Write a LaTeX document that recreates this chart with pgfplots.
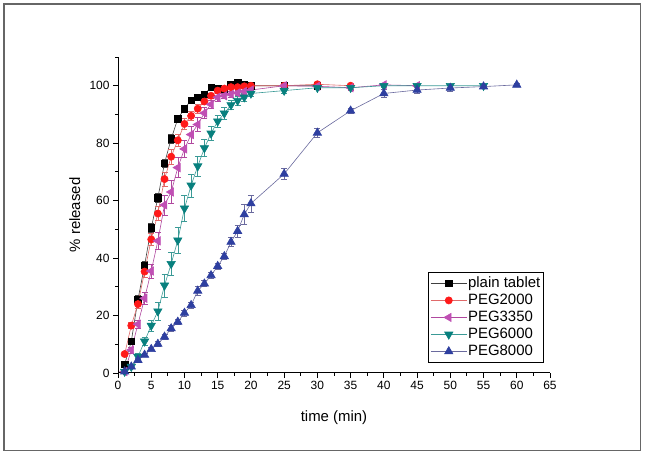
\documentclass[border=0pt]{standalone}
\usepackage{fontspec}
\setmainfont{Liberation Sans}
\usepackage{pgfplots}
\pgfplotsset{compat=1.18}
\usepackage{pgfplotstable}

\definecolor{lplain}{HTML}{404040}
\definecolor{mred}{HTML}{FF1A1A}
\definecolor{lred}{HTML}{E06A6A}
\definecolor{mmag}{HTML}{C04FB4}
\definecolor{lmag}{HTML}{B0489F}
\definecolor{mteal}{HTML}{08807E}
\definecolor{lteal}{HTML}{3A9A96}
\definecolor{mblue}{HTML}{2E3FA0}
\definecolor{lblue}{HTML}{6A6A9E}

\pgfplotstableread{
t v e
1 3 0.5
2 11 1
3 25.5 1.5
4 37.5 1.5
5 50.5 1.5
6 61 1.5
7 73 1.5
8 81.5 1.5
9 88.5 1
10 92 1
11 95 1
12 96 1
13 97 1
14 99.4 0.5
15 99 0.5
16 98.8 0.5
17 100.5 0.5
18 101 0.5
19 100.5 0.5
20 100 0.5
25 100 0.5
30 100 0.5
}\plain

\pgfplotstableread{
t v e
1 6.6 0.5
2 16.5 1
3 24 1.5
4 35.3 2
5 46.5 2
6 55.5 2.5
7 67.5 2.5
8 75.3 2.5
9 81 2
10 86.7 2
11 89.5 1.5
12 92 1.5
13 94.5 1
14 96.5 1
15 98.3 1
16 99 0.5
17 99.5 0.5
18 99.5 0.5
19 99.8 0.5
20 100 0.5
25 100 0.5
30 100.5 0.5
35 100 0.5
}\pegA

\pgfplotstableread{
t v e
1 0.5 0.5
2 8 1
3 17 1.5
4 26 2
5 35.5 2.5
6 46 3
7 58.5 3.5
8 63 4
9 71.5 3.5
10 78 3
11 83 3
12 86.5 2.5
13 90.5 2
14 93.5 1.5
15 96 1.5
16 96.5 1
17 97 1
18 97.5 1
19 98 1
20 98.5 1
25 100 1
30 99.8 1
35 99.3 1
40 100.3 0.5
45 100 0.5
}\pegB

\pgfplotstableread{
t v e
1 0.5 0.5
2 2.2 0.5
3 5.7 1
4 11 1.5
5 16.5 2
6 21.5 3
7 30.5 4
8 38 4
9 46.2 4.5
10 57.3 4.5
11 65.3 4
12 72 3.5
13 78.3 3
14 83.4 2.5
15 87.6 2
16 90.4 2
17 93.3 1.5
18 94.8 1.5
19 96 1.5
20 97.3 1
25 98.3 1
30 99.3 0.5
35 99.3 0.5
40 100 0.5
45 100 0.5
50 100 0.5
55 100 0.5
}\pegC

\pgfplotstableread{
t v e
1 0.5 0.5
2 2.2 0.5
3 4.5 0.5
4 6.3 0.5
5 8.3 0.5
6 10.1 0.8
7 12.6 1
8 15.5 1
9 17.8 1
10 20.9 1
11 23.6 1
12 28.6 1.5
13 31.1 1
14 34 1
15 37.2 1
16 40.6 1
17 45.6 1.5
18 49.4 2
19 55.2 3.5
20 59 3
25 69.3 2
30 83.6 1.5
35 91.3 1
40 97.3 1.5
45 98.5 1
50 99.2 1
55 99.7 0.5
60 100.3 0.5
}\pegD

\begin{document}
\begin{tikzpicture}
\useasboundingbox (0,0) rectangle (645bp,455bp);
\draw[line width=1.3bp, color=black!60] (4bp,4.5bp) rectangle (640.5bp,451bp);
\begin{axis}[
  at={(118bp,82bp)}, anchor=south west,
  scale only axis, width=432bp, height=316bp,
  xmin=0, xmax=65, ymin=0, ymax=110,
  axis x line*=bottom, axis y line*=left,
  axis line style={line width=1bp, -},
  tick align=outside,
  xtick={0,5,...,65}, minor xtick={2.5,7.5,...,62.5},
  ytick={0,20,...,100}, minor ytick={10,30,...,110},
  major tick length=5bp, minor tick length=3bp,
  every tick/.style={black, line width=0.9bp},
  /pgf/number format/assume math mode=true,
  tick label style={font=\fontsize{12}{14}\selectfont},
  xlabel={time (min)}, ylabel={\% released},
  label style={font=\fontsize{15}{18}\selectfont},
  xlabel style={at={(axis description cs:0.5,-0.14)}, anchor=center},
  ylabel style={at={(axis description cs:-0.1,0.5)}, anchor=center},
  clip=false,
  legend cell align=left,
  legend style={at={(0.718,0.32)}, anchor=north west, draw=black, line width=0.6bp,
    font=\fontsize{15}{17}\selectfont, inner xsep=2bp, inner ysep=3bp,
    nodes={inner sep=1bp, text height=11bp, text depth=3.5bp}, row sep=0.5bp},
  legend image code/.code={\draw[mark repeat=2,mark phase=2,#1] plot coordinates {(0bp,0bp) (18bp,0bp) (36bp,0bp)};},
  every axis plot/.append style={line width=0.6bp},
  error bars/error mark options={rotate=90, mark size=3bp, line width=0.6bp},
]
\addplot[color=lplain, mark=square*, mark size=3.2bp, mark options={fill=black, draw=black},
  error bars/.cd, y dir=both, y explicit, error bar style={color=lplain, line width=0.6bp}]
  table[x=t, y=v, y error=e] {\plain};
\addlegendentry{plain tablet}
\addplot[color=lred, mark=*, mark size=3.6bp, mark options={fill=mred, draw=mred},
  error bars/.cd, y dir=both, y explicit, error bar style={color=lred, line width=0.6bp}]
  table[x=t, y=v, y error=e] {\pegA};
\addlegendentry{PEG2000}
\addplot[color=lmag, mark=triangle*, mark size=4.8bp, mark options={rotate=90, fill=mmag, draw=mmag},
  error bars/.cd, y dir=both, y explicit, error bar style={color=lmag, line width=0.6bp}]
  table[x=t, y=v, y error=e] {\pegB};
\addlegendentry{PEG3350}
\addplot[color=lteal, mark=triangle*, mark size=4.8bp, mark options={rotate=180, fill=mteal, draw=mteal},
  error bars/.cd, y dir=both, y explicit, error bar style={color=lteal, line width=0.6bp}]
  table[x=t, y=v, y error=e] {\pegC};
\addlegendentry{PEG6000}
\addplot[color=lblue, mark=triangle*, mark size=4.8bp, mark options={fill=mblue, draw=mblue},
  error bars/.cd, y dir=both, y explicit, error bar style={color=lblue, line width=0.6bp}]
  table[x=t, y=v, y error=e] {\pegD};
\addlegendentry{PEG8000}
\end{axis}
\end{tikzpicture}
\end{document}
